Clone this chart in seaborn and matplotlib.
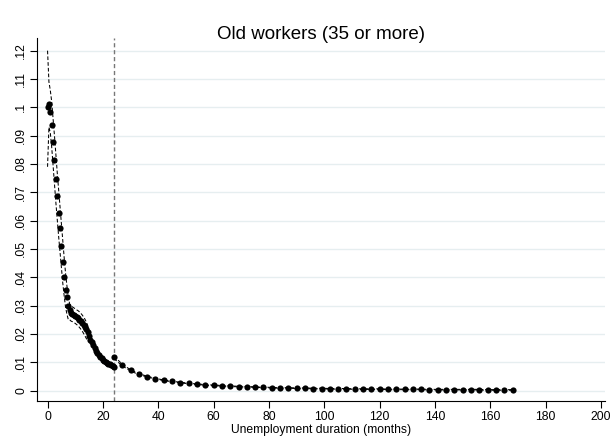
import pandas as pd
import seaborn as sns
import matplotlib.pyplot as plt
from matplotlib.ticker import FuncFormatter

# Hazard before 24 months (half-month grid)
months_a = [0, 0.5, 1, 1.5, 2, 2.5, 3, 3.5, 4, 4.5, 5, 5.5, 6, 6.5, 7, 7.5, 8,
            8.5, 9, 9.5, 10, 10.5, 11, 11.5, 12, 12.5, 13, 13.5, 14, 14.5, 15,
            15.5, 16, 16.5, 17, 17.5, 18, 18.5, 19, 19.5, 20, 20.5, 21, 21.5,
            22, 22.5, 23, 23.5, 24]
hazard_a = [.1000, .1010, .0985, .0938, .0877, .0814, .0746, .0687, .0626, .0573,
            .0512, .0453, .0402, .0355, .0329, .0299, .0285, .0275, .0270, .0266,
            .0262, .0258, .0255, .0250, .0245, .0240, .0233, .0225, .0216, .0205,
            .0193, .0180, .0170, .0159, .0150, .0141, .0133, .0126, .0119, .0114,
            .0109, .0105, .0101, .0098, .0095, .0092, .0089, .0086, .0083]
upper_a = [.1200, .1090, .1060, .1020, .0960, .0900, .0835, .0770, .0710, .0650,
           .0590, .0530, .0470, .0415, .0370, .0330, .0305, .0300, .0295, .0292,
           .0288, .0285, .0282, .0278, .0273, .0267, .0260, .0252, .0242, .0230,
           .0212, .0195, .0180, .0167, .0157, .0147, .0139, .0132, .0125, .0119,
           .0114, .0110, .0106, .0103, .0100, .0097, .0094, .0091, .0088]
lower_a = [.0790, .0930, .0910, .0860, .0795, .0730, .0665, .0605, .0545, .0490,
           .0435, .0380, .0335, .0295, .0270, .0250, .0250, .0245, .0243, .0240,
           .0237, .0233, .0229, .0223, .0217, .0210, .0202, .0193, .0184, .0175,
           .0175, .0166, .0160, .0151, .0143, .0135, .0127, .0120, .0113, .0109,
           .0104, .0100, .0096, .0093, .0090, .0087, .0084, .0081, .0078]

# Hazard from 24 months on (3-month grid)
months_b = [24, 27, 30, 33, 36, 39, 42, 45, 48, 51, 54, 57, 60, 63, 66, 69, 72,
            75, 78, 81, 84, 87, 90, 93, 96, 99, 102, 105, 108, 111, 114, 117,
            120, 123, 126, 129, 132, 135, 138, 141, 144, 147, 150, 153, 156,
            159, 162, 165, 168]
hazard_b = [.0117, .0090, .0071, .0058, .0049, .0042, .0036, .0032, .0028, .0025,
            .0022, .0020, .0018, .0017, .0015, .0014, .0013, .0012, .0011, .0010,
            .0009, .0009, .0008, .0008, .0007, .0007, .0006, .0006, .0006, .0005,
            .0005, .0005, .0005, .0004, .0004, .0004, .0004, .0004, .0003, .0003,
            .0003, .0003, .0003, .0003, .0003, .0002, .0002, .0002, .0002]
upper_b = [.0121, .0093, .0073, .0060, .0050, .0043, .0037, .0033, .0029, .0026,
           .0023, .0021, .0019, .0018, .0016, .0015, .0014, .0013, .0012, .0011,
           .0010, .0010, .0009, .0009, .0008, .0008, .0007, .0007, .0007, .0006,
           .0006, .0006, .0006, .0005, .0005, .0005, .0005, .0005, .0004, .0004,
           .0004, .0004, .0004, .0004, .0004, .0003, .0003, .0003, .0003]
lower_b = [.0113, .0087, .0069, .0056, .0048, .0041, .0035, .0031, .0027, .0024,
           .0021, .0019, .0017, .0016, .0014, .0013, .0012, .0011, .0010, .0009,
           .0008, .0008, .0007, .0007, .0006, .0006, .0005, .0005, .0005, .0004,
           .0004, .0004, .0004, .0003, .0003, .0003, .0003, .0003, .0002, .0002,
           .0002, .0002, .0002, .0002, .0002, .0001, .0001, .0001, .0001]

cutoff = 24
x_ticks = [0, 20, 40, 60, 80, 100, 120, 140, 160, 180, 200]
y_ticks = [0, .01, .02, .03, .04, .05, .06, .07, .08, .09, .1, .11, .12]

df_a = pd.DataFrame({'months': months_a, 'hazard': hazard_a, 'upper': upper_a, 'lower': lower_a})
df_b = pd.DataFrame({'months': months_b, 'hazard': hazard_b, 'upper': upper_b, 'lower': lower_b})

sns.set_style("white")
plt.rcParams['font.family'] = ['Liberation Sans', 'DejaVu Sans']
plt.rcParams['text.color'] = 'black'
plt.rcParams['axes.labelcolor'] = 'black'
plt.rcParams['xtick.color'] = 'black'
plt.rcParams['ytick.color'] = 'black'

fig = plt.figure(figsize=(6.14, 4.42), dpi=100)
ax = fig.add_axes([0.0603, 0.0928, 0.925, 0.822])

for y in y_ticks:
    ax.axhline(y, color='#e6eef0', lw=1, zorder=0)

for df in (df_a, df_b):
    for col in ('upper', 'lower'):
        sns.lineplot(data=df, x='months', y=col, ax=ax, color='black', lw=0.75,
                     linestyle=(0, (3.5, 2)), zorder=2)
    sns.scatterplot(data=df, x='months', y='hazard', ax=ax, color='black',
                    s=20, linewidth=0, zorder=3)

ax.axvline(cutoff, color='#777777', lw=1, linestyle=(0, (3, 2)), zorder=1)

ax.set_xlim(-3.8, 201.4)
ax.set_ylim(-0.0037, 0.1246)
ax.set_xticks(x_ticks)
ax.set_yticks(y_ticks)


def fmt(v, pos):
    if v == 0:
        return '0'
    return f'{v:.2f}'.rstrip('0').lstrip('0')


ax.yaxis.set_major_formatter(FuncFormatter(fmt))
ax.tick_params(axis='both', direction='out', length=5, width=0.8, labelsize=8.7,
               color='black', labelcolor='black', bottom=True, left=True, pad=2)
for lab in ax.get_yticklabels():
    lab.set_rotation(90)
    lab.set_va('center')

for side in ('top', 'right'):
    ax.spines[side].set_visible(False)
for side in ('left', 'bottom'):
    ax.spines[side].set_color('black')
    ax.spines[side].set_linewidth(0.8)

ax.set_xlabel('Unemployment duration (months)', fontsize=8.7, labelpad=1, color='black')
ax.set_ylabel('')
ax.set_title('Old workers (35 or more)', fontsize=13.5, pad=-1, color='black')

fig.savefig('out.png', dpi=100)
